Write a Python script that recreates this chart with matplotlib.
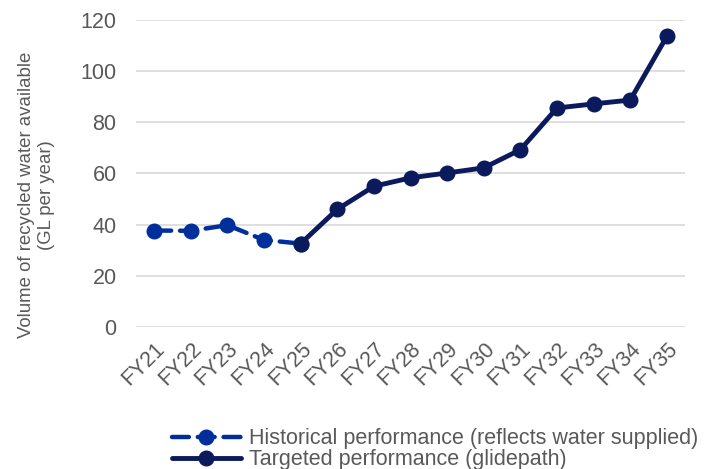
import matplotlib.pyplot as plt

plt.rcParams['font.family'] = ['Liberation Sans', 'DejaVu Sans']

years = ['FY21', 'FY22', 'FY23', 'FY24', 'FY25', 'FY26', 'FY27', 'FY28',
         'FY29', 'FY30', 'FY31', 'FY32', 'FY33', 'FY34', 'FY35']
historical_years = years[:5]
historical = [37.7, 37.6, 39.8, 34.0, 32.6]
target_years = years[4:]
target = [32.6, 46.0, 55.0, 58.3, 60.2, 62.2, 69.3, 85.6, 87.2, 88.7, 113.6]

grey = '#595959'
hist_color = '#002f9c'
target_color = '#0a1a5c'

fig = plt.figure(figsize=(7.1, 4.69), dpi=100)
ax = fig.add_axes([0.1915, 0.3028, 0.7735, 0.6546])

x_idx = {y: i for i, y in enumerate(years)}
ax.plot([x_idx[y] for y in historical_years], historical, color=hist_color,
        lw=3.2, dashes=(3.8, 2.0), dash_capstyle='round', marker='o', markersize=10.5,
        label='Historical performance (reflects water supplied)', zorder=3)
ax.plot([x_idx[y] for y in target_years], target, color=target_color,
        lw=3.5, marker='o', markersize=10.5, solid_capstyle='round',
        label='Targeted performance (glidepath)', zorder=4)

ax.set_xlim(-0.5, len(years) - 0.5)
ax.set_ylim(0, 120)
ax.set_yticks(range(0, 121, 20))
ax.set_xticks(range(len(years)))
ax.set_xticklabels(years, rotation=45, ha='right', rotation_mode='anchor')
ax.tick_params(axis='both', length=0, colors=grey, labelsize=15.5)
ax.tick_params(axis='y', pad=14)
ax.tick_params(axis='x', pad=8)
ax.grid(axis='y', color='#d9d9d9', lw=1.2)
ax.set_axisbelow(True)
for s in ax.spines.values():
    s.set_visible(False)

fig.text(0.051, 0.584, 'Volume of recycled water available\n(GL per year)',
         rotation=90, ha='center', va='center', fontsize=13.4, color=grey,
         linespacing=1.2)

fig.legend(loc='upper left', bbox_to_anchor=(0.242, 0.087), frameon=False,
           fontsize=15.5, labelcolor=grey, handlelength=3.2, handletextpad=0.37,
           labelspacing=0.0, borderaxespad=0, borderpad=0)

fig.savefig('out.png', dpi=100)
